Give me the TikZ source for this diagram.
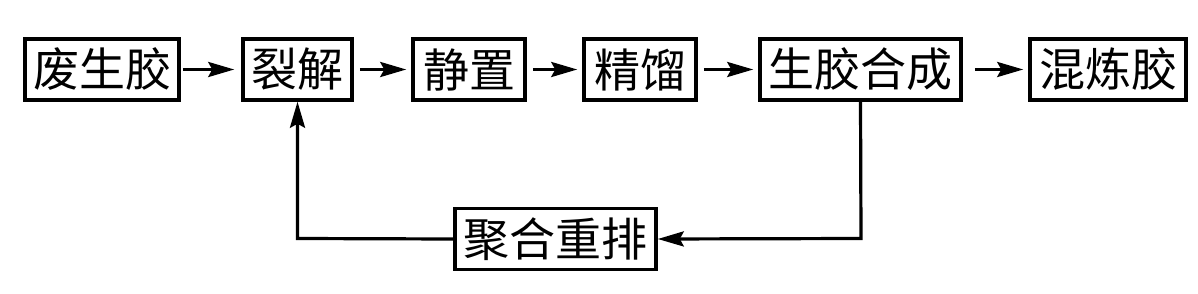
\documentclass[tikz,border=0pt]{standalone}
\usepackage{fontspec}
\newfontfamily\cjk{Noto Sans CJK SC}
\usetikzlibrary{arrows.meta}
\begin{document}
\begin{tikzpicture}[x=1pt,y=-1pt,
  procbox/.style={draw=black, line width=3.5pt, fill=white, inner sep=0pt,
    minimum height=61pt, font=\cjk\fontsize{46}{46}\selectfont},
  flow/.style={line width=3.2pt, -{Stealth[length=26pt,width=15pt,inset=4pt]}}]
\useasboundingbox (0,0) rectangle (1198,294);
\node[procbox, minimum width=154pt] (a) at (102,69.5) {废生胶};
\node[procbox, minimum width=109pt] (b) at (297.5,69.5) {裂解};
\node[procbox, minimum width=112pt] (c) at (469,69.5) {静置};
\node[procbox, minimum width=112pt] (d) at (640,69.5) {精馏};
\node[procbox, minimum width=201pt] (e) at (860.5,69.5) {生胶合成};
\node[procbox, minimum width=156pt] (f) at (1108,69.5) {混炼胶};
\node[procbox, minimum width=201pt] (g) at (555.5,239) {聚合重排};
\coordinate (bl) at (297.5,238.5);
\coordinate (br) at (861,238.5);
\draw[flow, shorten <=2pt, shorten >=7pt] (a) -- (b);
\draw[flow, shorten <=6pt, shorten >=5pt] (b) -- (c);
\draw[flow, shorten <=6pt, shorten >=5pt] (c) -- (d);
\draw[flow, shorten <=6pt, shorten >=5pt] (d) -- (e);
\draw[flow, shorten <=12pt, shorten >=5pt] (e) -- (f);
\draw[flow] (e.south) -- (br) -- (g.east);
\draw[flow] (g.west) -- (bl) -- (b.south);
\end{tikzpicture}
\end{document}
